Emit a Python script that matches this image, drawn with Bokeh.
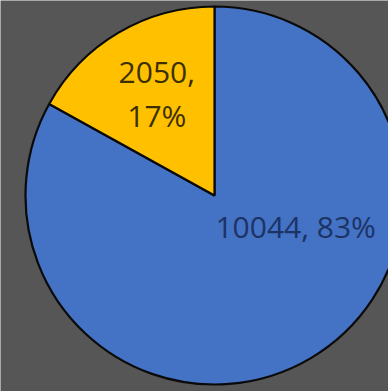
import math
from bokeh.plotting import figure
from bokeh.models import Range1d, ColumnDataSource
from bokeh.core.properties import value
from bokeh.embed import file_html
from bokeh.resources import INLINE

# data
categories = ["B", "A"]
values = [10044, 2050]
colors = ["#4472C4", "#FFC000"]
text_colors = ["#1C3366", "#3D3000"]

W, H = 388, 391
cx, cy, r = 214, 196, 189

total = sum(values)
# Yellow slice starts at 12 o'clock going counter-clockwise; blue fills the rest
ang_a = values[1] / total * 2 * math.pi
starts = [math.pi / 2 + ang_a, math.pi / 2]
ends = [math.pi / 2 + 2 * math.pi, math.pi / 2 + ang_a]

src = ColumnDataSource(dict(x=[cx, cx], y=[cy, cy], start=starts, end=ends, color=colors))

p = figure(width=W, height=H, output_backend="svg", toolbar_location=None,
           x_range=Range1d(0, W), y_range=Range1d(0, H), min_border=0)
p.axis.visible = False
p.grid.visible = False
p.outline_line_color = None
p.background_fill_color = "#565656"
p.border_fill_color = "#565656"

p.wedge(x="x", y="y", radius=r, start_angle="start", end_angle="end",
        fill_color="color", line_color="#0a0a0a", line_width=2.2, source=src)

labels = []
for v in values:
    labels.append(f"{v}, {round(v / total * 100)}%")

# label placement (fraction of radius, angle in degrees)
place = [(0.46, -21.0), (0.62, 119.5)]
lx, ly, lc = [], [], []
for i in range(2):
    fr, a = place[i]
    lx.append(cx + fr * r * math.cos(math.radians(a)))
    ly.append(cy + fr * r * math.sin(math.radians(a)))
    lc.append(text_colors[i])
lt = [labels[0], labels[1].replace(" ", "\n")]

p.text(x=lx, y=ly, text=lt, text_color=lc, text_font=value("Open Sans"),
       text_font_size="30px", text_align="center", text_baseline="middle",
       text_line_height=1.05)

open("out.html", "w").write(file_html(p, INLINE))
